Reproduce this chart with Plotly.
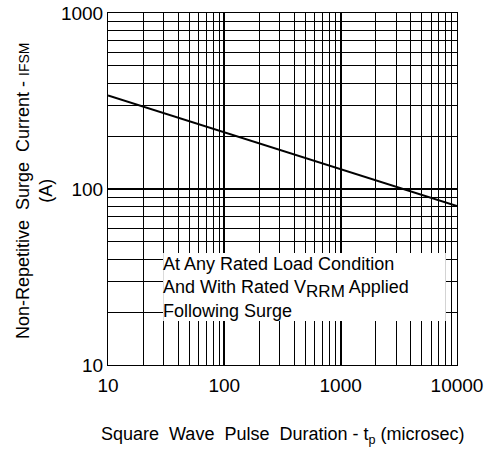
import plotly.graph_objects as go

pulse_us = [10, 10000]
surge_a = [340, 80]

x_major = [10, 100, 1000, 10000]
x_major_text = ["10", "100", "1000", "10000"]
x_minor = [m * d for d in (10, 100, 1000) for m in range(2, 10)]
y_major = [10, 100, 1000]
y_major_text = ["10", "100", "1000"]
y_minor = [m * d for d in (10, 100) for m in range(2, 10)]

FONT = "Liberation Sans, Arial, sans-serif"
SP = "&nbsp; "

fig = go.Figure()
fig.add_trace(go.Scatter(x=pulse_us, y=surge_a, mode="lines",
                         line=dict(color="black", width=2), showlegend=False,
                         hoverinfo="skip"))

axis_common = dict(type="log", showline=True, linecolor="black", linewidth=1,
                   mirror=True, gridcolor="black", gridwidth=2, zeroline=False,
                   automargin=False, ticks="",
                   tickfont=dict(family=FONT, size=19, color="black"))

fig.update_xaxes(**axis_common, range=[1, 4], tickvals=x_major, ticktext=x_major_text,
                 ticklabelstandoff=3,
                 minor=dict(tickvals=x_minor, showgrid=True, gridcolor="black", gridwidth=1, ticks=""))
fig.update_yaxes(**axis_common, range=[1, 3], tickvals=y_major, ticktext=y_major_text,
                 ticklabelstandoff=0,
                 minor=dict(tickvals=y_minor, showgrid=True, gridcolor="black", gridwidth=1, ticks=""))

# axis titles
fig.add_annotation(xref="paper", yref="paper", x=0.5, y=-0.199, xanchor="center", yanchor="middle",
                   showarrow=False,
                   text="Square" + SP + "Wave" + SP + "Pulse" + SP + "Duration - t<sub>p</sub> (microsec)",
                   font=dict(family=FONT, size=18, color="black"))
fig.add_annotation(xref="paper", yref="paper", x=-0.212, y=0.494, xanchor="center", yanchor="middle",
                   showarrow=False, textangle=-90,
                   text="Non-Repetitive" + SP + "Surge" + SP + "Current - <span style='font-size:14px'>IFSM</span><br>(A)",
                   font=dict(family=FONT, size=18, color="black"))

# note box
fig.add_shape(type="rect", xref="paper", yref="paper", x0=0.158, x1=0.968, y0=0.125, y1=0.318,
              fillcolor="white", line=dict(width=0), layer="above")
fig.add_annotation(xref="paper", yref="paper", x=0.153, y=0.22, xanchor="left", yanchor="middle",
                   align="left", showarrow=False,
                   text="At Any Rated Load Condition<br>And With Rated V<sub><span style='font-size:17px'>RRM</span></sub> Applied<br>Following Surge",
                   font=dict(family=FONT, size=18, color="black"))

fig.update_layout(width=486, height=450, margin=dict(l=108, r=29, t=13, b=85),
                  plot_bgcolor="white", paper_bgcolor="white",
                  font=dict(family=FONT, color="black"), hovermode=False)

fig.write_html("out.html", config={"displayModeBar": False, "staticPlot": True},
               post_script="document.body.style.margin='0';")
